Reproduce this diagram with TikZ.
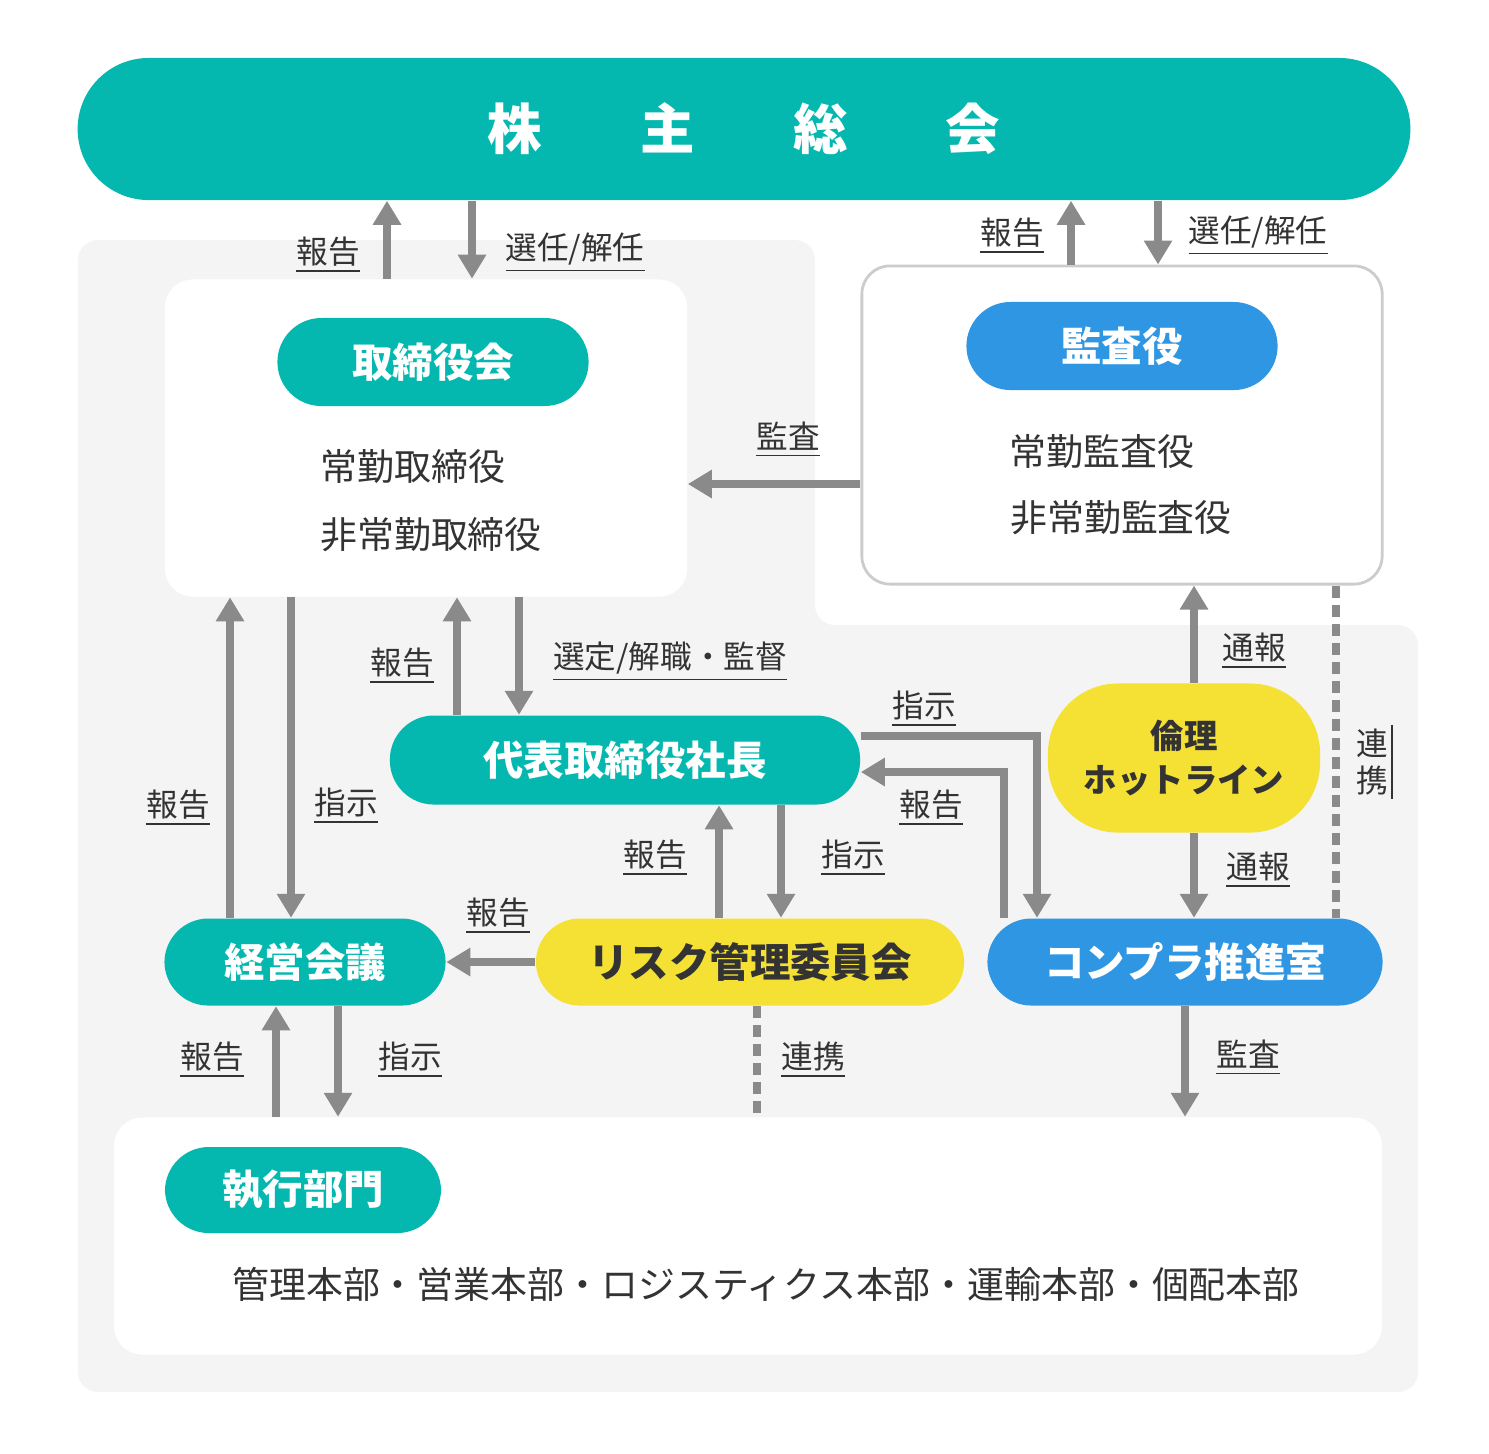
\documentclass[tikz,border=0pt]{standalone}
\usepackage{fontspec}
\setmainfont{Noto Sans CJK JP}
\usetikzlibrary{arrows.meta}
\definecolor{teal}{HTML}{05B8AF}
\definecolor{skyblue}{HTML}{2F96E3}
\definecolor{lemon}{HTML}{F5E133}
\definecolor{pale}{HTML}{F3F4F3}
\definecolor{arrowgray}{HTML}{8A8A8A}
\definecolor{ink}{HTML}{333333}
\tikzset{
  pill/.style={rectangle, rounded corners=0.44cm, minimum height=0.88cm, inner sep=0pt, text=white, font=\fontsize{11.5}{13}\selectfont\bfseries},
  box/.style={rectangle, rounded corners=0.28cm, fill=white, inner sep=0pt},
  arr/.style={draw=arrowgray, line width=2.2pt, -{Triangle[length=0.24cm,width=0.27cm]}},
  liaison/.style={draw=arrowgray, line width=2.2pt, dash pattern=on 0.12cm off 0.07cm},
  lbl/.style={text=ink, font=\fontsize{9}{10}\selectfont, inner sep=1pt},
  member/.style={text=ink, font=\fontsize{10.5}{12}\selectfont, inner sep=0pt}
}
\begin{document}
\begin{tikzpicture}[x=0.01cm, y=-0.01cm]
  \useasboundingbox (0,0) rectangle (1489,1453);
  % background panel
  \fill[pale, rounded corners=0.2cm] (78,240) -- (815,240) -- (815,625) -- (1418,625) -- (1418,1392) -- (78,1392) -- cycle;
  % shareholders
  \node[pill, fill=teal, rounded corners=0.71cm, minimum width=13.32cm, minimum height=1.42cm, font=\fontsize{15.5}{17}\selectfont\bfseries] (soukai) at (744,129) {株\hspace{1.8em}主\hspace{1.8em}総\hspace{1.8em}会};
  % containers
  \node[box, minimum width=5.22cm, minimum height=3.17cm] (boardbox) at (426,438) {};
  \node[box, draw=black!20, line width=0.8pt, minimum width=5.2cm, minimum height=3.18cm] (auditbox) at (1122,425) {};
  \node[box, minimum width=12.67cm, minimum height=2.37cm] (execbox) at (748,1236) {};
  % pills
  \node[pill, fill=teal, minimum width=3.11cm] (board) at (433,362) {取締役会};
  \node[pill, fill=skyblue, minimum width=3.11cm] (auditor) at (1122,346) {監査役};
  \node[pill, fill=teal, minimum width=4.7cm, minimum height=0.89cm] (ceo) at (625,760) {代表取締役社長};
  \node[pill, fill=teal, minimum width=2.81cm, minimum height=0.87cm] (mgmt) at (305,962) {経営会議};
  \node[pill, fill=lemon, text=ink, minimum width=4.28cm, minimum height=0.87cm] (risk) at (750,962) {リスク管理委員会};
  \node[pill, fill=skyblue, minimum width=3.95cm, minimum height=0.87cm] (comp) at (1185,962) {コンプラ推進室};
  \node[pill, fill=lemon, text=ink, rounded corners=0.7cm, minimum width=2.72cm, minimum height=1.49cm, align=center, font=\fontsize{9.5}{12.5}\selectfont\bfseries] (hotline) at (1184,758) {倫理\\ホットライン};
  \node[pill, fill=teal, minimum width=2.76cm, minimum height=0.86cm] (exec) at (303,1190) {執行部門};
  % members
  \node[member] (boardfull) at (413,467) {常勤取締役};
  \node[member] (boardpart) at (431,535) {非常勤取締役};
  \node[member] (audfull) at (1102,451) {常勤監査役};
  \node[member] (audpart) at (1121,518) {非常勤監査役};
  \node[member] (divisions) at (766,1284) {管理本部・営業本部・ロジスティクス本部・運輸本部・個配本部};
  % board <-> shareholders
  \draw[arr] (387,0 |- boardbox.north) -- (387,0 |- soukai.south);
  \draw[arr] (472,0 |- soukai.south) -- (472,0 |- boardbox.north);
  \node[lbl] at (328,255) {\underline{報告}};
  \node[lbl] at (575,253) {\underline{選任/解任}};
  % auditor <-> shareholders
  \draw[arr] (1071,0 |- auditbox.north) -- (1071,0 |- soukai.south);
  \draw[arr] (1158,0 |- soukai.south) -- (1158,0 |- auditbox.north);
  \node[lbl] at (1012,236) {\underline{報告}};
  \node[lbl] at (1258,236) {\underline{選任/解任}};
  % audit
  \draw[arr] (auditbox.west |- 0,484) -- (boardbox.east |- 0,484);
  \node[lbl] at (788,440) {\underline{監査}};
  % board <-> management meeting
  \draw[arr] (230,0 |- mgmt.north) -- (230,0 |- boardbox.south);
  \draw[arr] (291,0 |- boardbox.south) -- (291,0 |- mgmt.north);
  \node[lbl] at (178,808) {\underline{報告}};
  \node[lbl] at (346,806) {\underline{指示}};
  % board <-> president
  \draw[arr] (457,0 |- ceo.north) -- (457,0 |- boardbox.south);
  \draw[arr] (519,0 |- boardbox.south) -- (519,0 |- ceo.north);
  \node[lbl] at (402,666) {\underline{報告}};
  \node[lbl] at (670,662) {\underline{選定/解職・監督}};
  % president <-> compliance
  \draw[arr] (ceo.east |- 0,736) -- (1037,736) -- (1037,0 |- comp.north);
  \draw[arr] (1004,0 |- comp.north) -- (1004,772) -- (ceo.east |- 0,772);
  \node[lbl] at (924,709) {\underline{指示}};
  \node[lbl] at (931,808) {\underline{報告}};
  % president <-> risk committee
  \draw[arr] (719,0 |- risk.north) -- (719,0 |- ceo.south);
  \draw[arr] (781,0 |- ceo.south) -- (781,0 |- risk.north);
  \node[lbl] at (655,858) {\underline{報告}};
  \node[lbl] at (853,858) {\underline{指示}};
  % risk committee -> management meeting
  \draw[arr] (risk.west) -- (mgmt.east);
  \node[lbl] at (498,916) {\underline{報告}};
  % hotline
  \draw[arr] (1194,0 |- hotline.north) -- (1194,0 |- auditbox.south);
  \draw[arr] (1194,0 |- hotline.south) -- (1194,0 |- comp.north);
  \node[lbl] at (1254,651) {\underline{通報}};
  \node[lbl] at (1258,870) {\underline{通報}};
  % auditor - compliance liaison
  \draw[liaison] (1336,0 |- auditbox.south) -- (1336,0 |- comp.north);
  \node[lbl, align=center, font=\fontsize{9}{10.5}\selectfont] (liaisonv) at (1372,762) {連\\携};
  \draw[ink, line width=0.7pt] (liaisonv.north east) -- (liaisonv.south east);
  % management meeting <-> execution
  \draw[arr] (276,0 |- execbox.north) -- (276,0 |- mgmt.south);
  \draw[arr] (338,0 |- mgmt.south) -- (338,0 |- execbox.north);
  \node[lbl] at (212,1060) {\underline{報告}};
  \node[lbl] at (410,1060) {\underline{指示}};
  % risk committee - execution
  \draw[liaison] (757,0 |- risk.south) -- (757,0 |- execbox.north);
  \node[lbl] at (813,1060) {\underline{連携}};
  % compliance -> execution
  \draw[arr] (1185,0 |- comp.south) -- (1185,0 |- execbox.north);
  \node[lbl] at (1248,1058) {\underline{監査}};
\end{tikzpicture}
\end{document}
